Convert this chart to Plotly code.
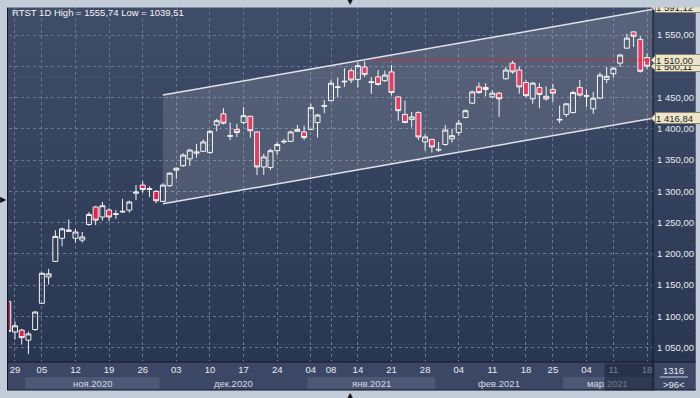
import plotly.graph_objects as go

# ---------------- data ----------------
dates = [
    "2020-10-28", "2020-10-29", "2020-10-30", "2020-11-02", "2020-11-03", "2020-11-05", "2020-11-06",
    "2020-11-09", "2020-11-10", "2020-11-11", "2020-11-12", "2020-11-13", "2020-11-16", "2020-11-17",
    "2020-11-18", "2020-11-19", "2020-11-20", "2020-11-23", "2020-11-24", "2020-11-25", "2020-11-26",
    "2020-11-27", "2020-11-30", "2020-12-01", "2020-12-02", "2020-12-03", "2020-12-04", "2020-12-07",
    "2020-12-08", "2020-12-09", "2020-12-10", "2020-12-11", "2020-12-14", "2020-12-15", "2020-12-16",
    "2020-12-17", "2020-12-18", "2020-12-21", "2020-12-22", "2020-12-23", "2020-12-24", "2020-12-25",
    "2020-12-28", "2020-12-29", "2020-12-30", "2021-01-04", "2021-01-05", "2021-01-06", "2021-01-08",
    "2021-01-11", "2021-01-12", "2021-01-13", "2021-01-14", "2021-01-15", "2021-01-18", "2021-01-19",
    "2021-01-20", "2021-01-21", "2021-01-22", "2021-01-25", "2021-01-26", "2021-01-27", "2021-01-28",
    "2021-01-29", "2021-02-01", "2021-02-02", "2021-02-03", "2021-02-04", "2021-02-05", "2021-02-08",
    "2021-02-09", "2021-02-10", "2021-02-11", "2021-02-12", "2021-02-15", "2021-02-16", "2021-02-17",
    "2021-02-18", "2021-02-19", "2021-02-20", "2021-02-24", "2021-02-25", "2021-02-26", "2021-03-01",
    "2021-03-02", "2021-03-03", "2021-03-04", "2021-03-05", "2021-03-09", "2021-03-10", "2021-03-11",
    "2021-03-12", "2021-03-15", "2021-03-16", "2021-03-17", "2021-03-18",
]
opens = [
    1124, 1075, 1078, 1062, 1079, 1121, 1163, 1188, 1225, 1236, 1225, 1222, 1247, 1275, 1259, 1270,
    1263, 1267, 1270, 1297, 1310, 1303, 1300, 1284, 1309, 1337, 1341, 1352, 1361, 1364, 1362, 1406,
    1424, 1388, 1399, 1410, 1420, 1395, 1339, 1338, 1365, 1379, 1380, 1396, 1395, 1399, 1410, 1436,
    1445, 1466, 1475, 1493, 1479, 1499, 1474, 1483, 1477, 1491, 1451, 1423, 1415, 1426, 1379, 1383,
    1366, 1375, 1384, 1394, 1418, 1441, 1467, 1466, 1451, 1457, 1480, 1505, 1494, 1474, 1448, 1466,
    1452, 1463, 1414, 1423, 1426, 1466, 1452, 1432, 1449, 1479, 1488, 1505, 1529, 1555, 1543, 1514,
]
highs = [
    1126, 1092, 1080, 1076, 1108, 1170, 1176, 1238, 1242, 1255, 1240, 1235, 1267, 1277, 1283, 1273,
    1270, 1288, 1285, 1310, 1316, 1308, 1302, 1313, 1331, 1338, 1361, 1368, 1376, 1383, 1398, 1416,
    1433, 1410, 1408, 1435, 1421, 1396, 1360, 1368, 1379, 1384, 1397, 1406, 1405, 1440, 1424, 1446,
    1478, 1482, 1497, 1497, 1506, 1508, 1483, 1494, 1493, 1502, 1452, 1445, 1427, 1428, 1391, 1384,
    1379, 1406, 1400, 1414, 1431, 1461, 1474, 1473, 1462, 1459, 1499, 1510, 1500, 1478, 1475, 1473,
    1468, 1472, 1437, 1441, 1461, 1478, 1463, 1459, 1490, 1499, 1499, 1520, 1552, 1555.74, 1548, 1521,
]
lows = [
    1072, 1063, 1055, 1039.51, 1077, 1120, 1151, 1187, 1212, 1235, 1218, 1218, 1245, 1246, 1253, 1252,
    1256, 1266, 1266, 1286, 1298, 1291, 1281, 1283, 1307, 1320, 1339, 1341, 1354, 1363, 1360, 1396,
    1407, 1382, 1387, 1407, 1386, 1326, 1326, 1334, 1358, 1376, 1379, 1395, 1382, 1398, 1386, 1425,
    1444, 1450, 1467, 1473, 1466, 1483, 1456, 1469, 1475, 1453, 1413, 1409, 1402, 1382, 1365, 1362,
    1363, 1373, 1378, 1389, 1417, 1440, 1456, 1452, 1449, 1419, 1479, 1488, 1456, 1451, 1440, 1433,
    1445, 1443, 1409, 1419, 1425, 1452, 1435, 1424, 1448, 1473, 1482, 1499, 1528, 1531, 1490, 1495,
]
closes = [
    1076, 1085, 1066, 1072, 1107, 1169, 1168, 1228, 1240, 1238, 1235, 1227, 1263, 1254, 1277, 1259,
    1264, 1268, 1283, 1299, 1303, 1304, 1285, 1310, 1329, 1334, 1358, 1366, 1363, 1379, 1396, 1413,
    1409, 1389, 1394, 1421, 1397, 1339, 1355, 1365, 1375, 1380, 1395, 1399, 1386, 1434, 1422, 1437,
    1473, 1467, 1476, 1478, 1501, 1487, 1475, 1471, 1486, 1458, 1429, 1410, 1419, 1387, 1387, 1371,
    1367, 1398, 1389, 1409, 1429, 1459, 1458, 1463, 1457, 1448, 1494, 1491, 1467, 1453, 1473, 1455,
    1448, 1457, 1415, 1440, 1458, 1454, 1453, 1449, 1486, 1484, 1497, 1518, 1545, 1548, 1492, 1500.11,
]

tick_dates = [
    "2020-10-29", "2020-11-05", "2020-11-12", "2020-11-19", "2020-11-26", "2020-12-03", "2020-12-10",
    "2020-12-17", "2020-12-24", "2021-01-04", "2021-01-08", "2021-01-14", "2021-01-21", "2021-01-28",
    "2021-02-04", "2021-02-11", "2021-02-18", "2021-02-25", "2021-03-04", "2021-03-11", "2021-03-18",
]
tick_labels = ["29", "05", "12", "19", "26", "03", "10", "17", "24", "04", "08",
               "14", "21", "28", "04", "11", "18", "25", "04", "11", "18"]
month_keys = ["2020-11", "2020-12", "2021-01", "2021-02", "2021-03"]
month_labels = ["ноя.2020", "дек.2020", "янв.2021", "фев.2021", "мар.2021"]
price_ticks = [1050, 1100, 1150, 1200, 1250, 1300, 1350, 1400, 1450, 1500, 1550]

channel_start = "2020-12-01"
channel_top = [1454.0, 1591.12]
channel_bottom = [1280.0, 1416.84]
level_start = "2021-01-18"
level_value = 1510.0
corner_value = "1316"

# ---------------- geometry helpers ----------------
W, H = 700, 398
L, R, T, B = 9, 657, 6, 362
XMIN, XMAX = 0.11, 95.89
YMIN, YMAX = 1027.1, 1596.4
UPP = (YMAX - YMIN) / (B - T)   # price units per pixel


def px(x):
    return (x - L) / (R - L)


def py(y):
    return (B - y) / (B - T)


def ru(v):
    return f"{v:,.2f}".replace(",", " ").replace(".", ",")


def plain(v):
    return f"{v:.2f}".replace(".", ",")


pos = list(range(len(dates)))
idx = {d: i for i, d in enumerate(dates)}

FRAME = "#c3cdd9"
TXT = "#e8ecf2"
FONT = "Liberation Sans"

fig = go.Figure()

# channel
c0 = idx[channel_start]
fig.add_trace(go.Scatter(
    x=[c0, XMAX, XMAX, c0], y=[channel_top[0], channel_top[1], channel_bottom[1], channel_bottom[0]],
    fill="toself", fillcolor="rgba(255,255,255,0.13)", mode="none", hoverinfo="skip", showlegend=False))
for vals in (channel_top, channel_bottom):
    fig.add_trace(go.Scatter(x=[c0, XMAX], y=vals, mode="lines",
                             line=dict(color="#dfe3ea", width=1.5), hoverinfo="skip", showlegend=False))

# resistance level
fig.add_trace(go.Scatter(x=[idx[level_start], XMAX], y=[level_value, level_value], mode="lines",
                         line=dict(color="#e8202a", width=1.5, dash="2px,2px"),
                         hoverinfo="skip", showlegend=False))

# candles
fig.add_trace(go.Candlestick(
    x=pos, open=opens, high=highs, low=lows, close=closes,
    increasing=dict(line=dict(color="#f4f4f4", width=1), fillcolor="rgba(0,0,0,0)"),
    decreasing=dict(line=dict(color="#f4f4f4", width=1), fillcolor="#e41f4a"),
    whiskerwidth=0, hoverinfo="skip", showlegend=False))

shapes = []
# panel gradient
N = 40
top_c, bot_c = (64, 77, 104), (41, 54, 82)
for i in range(N):
    y0 = T + i * (B - T) / N
    y1 = T + (i + 1) * (B - T) / N + 0.6
    f = (i + 0.5) / N
    c = tuple(round(a + (b - a) * f) for a, b in zip(top_c, bot_c))
    shapes.append(dict(type="rect", xref="paper", yref="paper", x0=px(7), x1=px(700),
                       y0=py(y1), y1=py(y0), fillcolor=f"rgb{c}", line=dict(width=0), layer="below"))
# bottom strip
shapes.append(dict(type="rect", xref="paper", yref="paper", x0=px(7), x1=px(700), y0=py(390), y1=py(362),
                   fillcolor="#3b4764", line=dict(width=0), layer="below"))
# month bands
for k, (mk, ml) in enumerate(zip(month_keys, month_labels)):
    members = [i for i, d in enumerate(dates) if d.startswith(mk)]
    a = max(members[0] - 0.5, XMIN)
    b = min(members[-1] + 0.5, XMAX) if k < len(month_keys) - 1 else XMAX
    if k % 2 == 0:
        shapes.append(dict(type="rect", xref="paper", yref="paper",
                           x0=(a - XMIN) / (XMAX - XMIN), x1=(b - XMIN) / (XMAX - XMIN),
                           y0=py(389), y1=py(377), fillcolor="#4c5875", line=dict(width=0), layer="below"))
# border lines
for (x0, y0, x1, y1) in [(7, 362, 700, 362), (657, 6, 657, 390), (7.5, 6, 7.5, 390),
                         (7, 6.5, 700, 6.5), (7, 390, 700, 390)]:
    shapes.append(dict(type="line", xref="paper", yref="paper", x0=px(x0), x1=px(x1), y0=py(y0), y1=py(y1),
                       line=dict(color="#121826", width=1), layer="above"))
# corner separator
shapes.append(dict(type="line", xref="paper", yref="paper", x0=px(664), x1=px(692), y0=py(377), y1=py(377),
                   line=dict(color="#c8d0dc", width=1), layer="above"))

annotations = []


def tag(value, text, shift_px=0.0):
    v = value + shift_px * UPP
    half = 5 * UPP
    shapes.append(dict(type="path", xref="paper", yref="y",
                       path=f"M {px(655)},{v} L {px(660)},{v + half} L {px(660)},{v - half} Z",
                       fillcolor="#ece5c9", line=dict(color="#8c8670", width=1), layer="above"))
    annotations.append(dict(xref="paper", yref="y", x=px(659), y=v, xanchor="left", yanchor="middle",
                            text=text, showarrow=False, font=dict(family=FONT, size=9.5, color="#1e1e1e"),
                            bgcolor="#ece5c9", bordercolor="#8c8670", borderwidth=1, borderpad=0,
                            height=10, width=44, align="left"))


tag(channel_top[1], ru(channel_top[1]), shift_px=2.5)
tag(closes[-1], ru(closes[-1]))
tag(level_value, ru(level_value))
tag(channel_bottom[1], ru(channel_bottom[1]))

# month labels
for mk, ml in zip(month_keys, month_labels):
    members = [i for i, d in enumerate(dates) if d.startswith(mk)]
    a = max(members[0] - 0.5, XMIN)
    b = XMAX if mk == month_keys[-1] else members[-1] + 0.5
    annotations.append(dict(xref="x", yref="paper", x=(a + b) / 2, y=py(383), text=ml, showarrow=False,
                            font=dict(family=FONT, size=9.5, color="#d4dae4"),
                            xanchor="center", yanchor="middle"))

# scroll overlay
annotations.append(dict(xref="paper", yref="paper", x=px(608), y=py(363), xanchor="left", yanchor="top",
                        text=" ", showarrow=False, width=49, height=26, borderpad=0,
                        bgcolor="rgba(26,33,52,0.55)", font=dict(size=4)))
# top frame cover
annotations.append(dict(xref="paper", yref="paper", x=px(0), y=py(0), xanchor="left", yanchor="top",
                        text=" ", showarrow=False, width=700, height=6, borderpad=0,
                        bgcolor=FRAME, font=dict(size=4)))
# title
annotations.append(dict(xref="paper", yref="paper", x=px(10), y=py(13), xanchor="left", yanchor="middle",
                        text=f"RTST 1D High = {plain(max(highs))} Low = {plain(min(lows))}", showarrow=False,
                        font=dict(family=FONT, size=9.5, color="#f2f4f8")))
# corner box
annotations.append(dict(xref="paper", yref="paper", x=px(678), y=py(370), text=corner_value, showarrow=False,
                        font=dict(family=FONT, size=9.5, color=TXT), xanchor="center", yanchor="middle"))
annotations.append(dict(xref="paper", yref="paper", x=px(678), y=py(384), text=f"&gt;{len(dates)}&lt;",
                        showarrow=False, font=dict(family=FONT, size=9.5, color=TXT),
                        xanchor="center", yanchor="middle"))
# frame triangles
for (x, y, s) in [(3.5, 199, "▶"), (353, 2, "▼"), (353, 395, "▲")]:
    annotations.append(dict(xref="paper", yref="paper", x=px(x), y=py(y), text=s, showarrow=False,
                            font=dict(family="DejaVu Sans", size=8, color="#10131a"),
                            xanchor="center", yanchor="middle"))

fig.update_layout(
    width=W, height=H, autosize=False,
    margin=dict(l=L, r=W - R, t=T, b=H - B, pad=0),
    paper_bgcolor=FRAME, plot_bgcolor="rgba(0,0,0,0)",
    showlegend=False, boxgap=0.26, boxgroupgap=0,
    shapes=shapes, annotations=annotations,
    xaxis=dict(range=[XMIN, XMAX], tickvals=[idx[d] for d in tick_dates], ticktext=tick_labels,
               showgrid=True, gridcolor="#6c7892", griddash="3px,3px", gridwidth=1,
               zeroline=False, showline=False, ticks="", rangeslider=dict(visible=False),
               tickfont=dict(family=FONT, size=9.5, color=TXT), fixedrange=True),
    yaxis=dict(range=[YMIN, YMAX], side="right", tickvals=price_ticks, ticktext=[ru(v) for v in price_ticks],
               showgrid=True, gridcolor="#6c7892", griddash="3px,3px", gridwidth=1,
               zeroline=False, showline=False, ticks="", ticklabelstandoff=3,
               tickfont=dict(family=FONT, size=9.5, color=TXT), fixedrange=True),
)

fig.write_html("out.html", config={"displayModeBar": False},
               post_script="document.body.style.margin='0';document.body.style.overflow='hidden';")
